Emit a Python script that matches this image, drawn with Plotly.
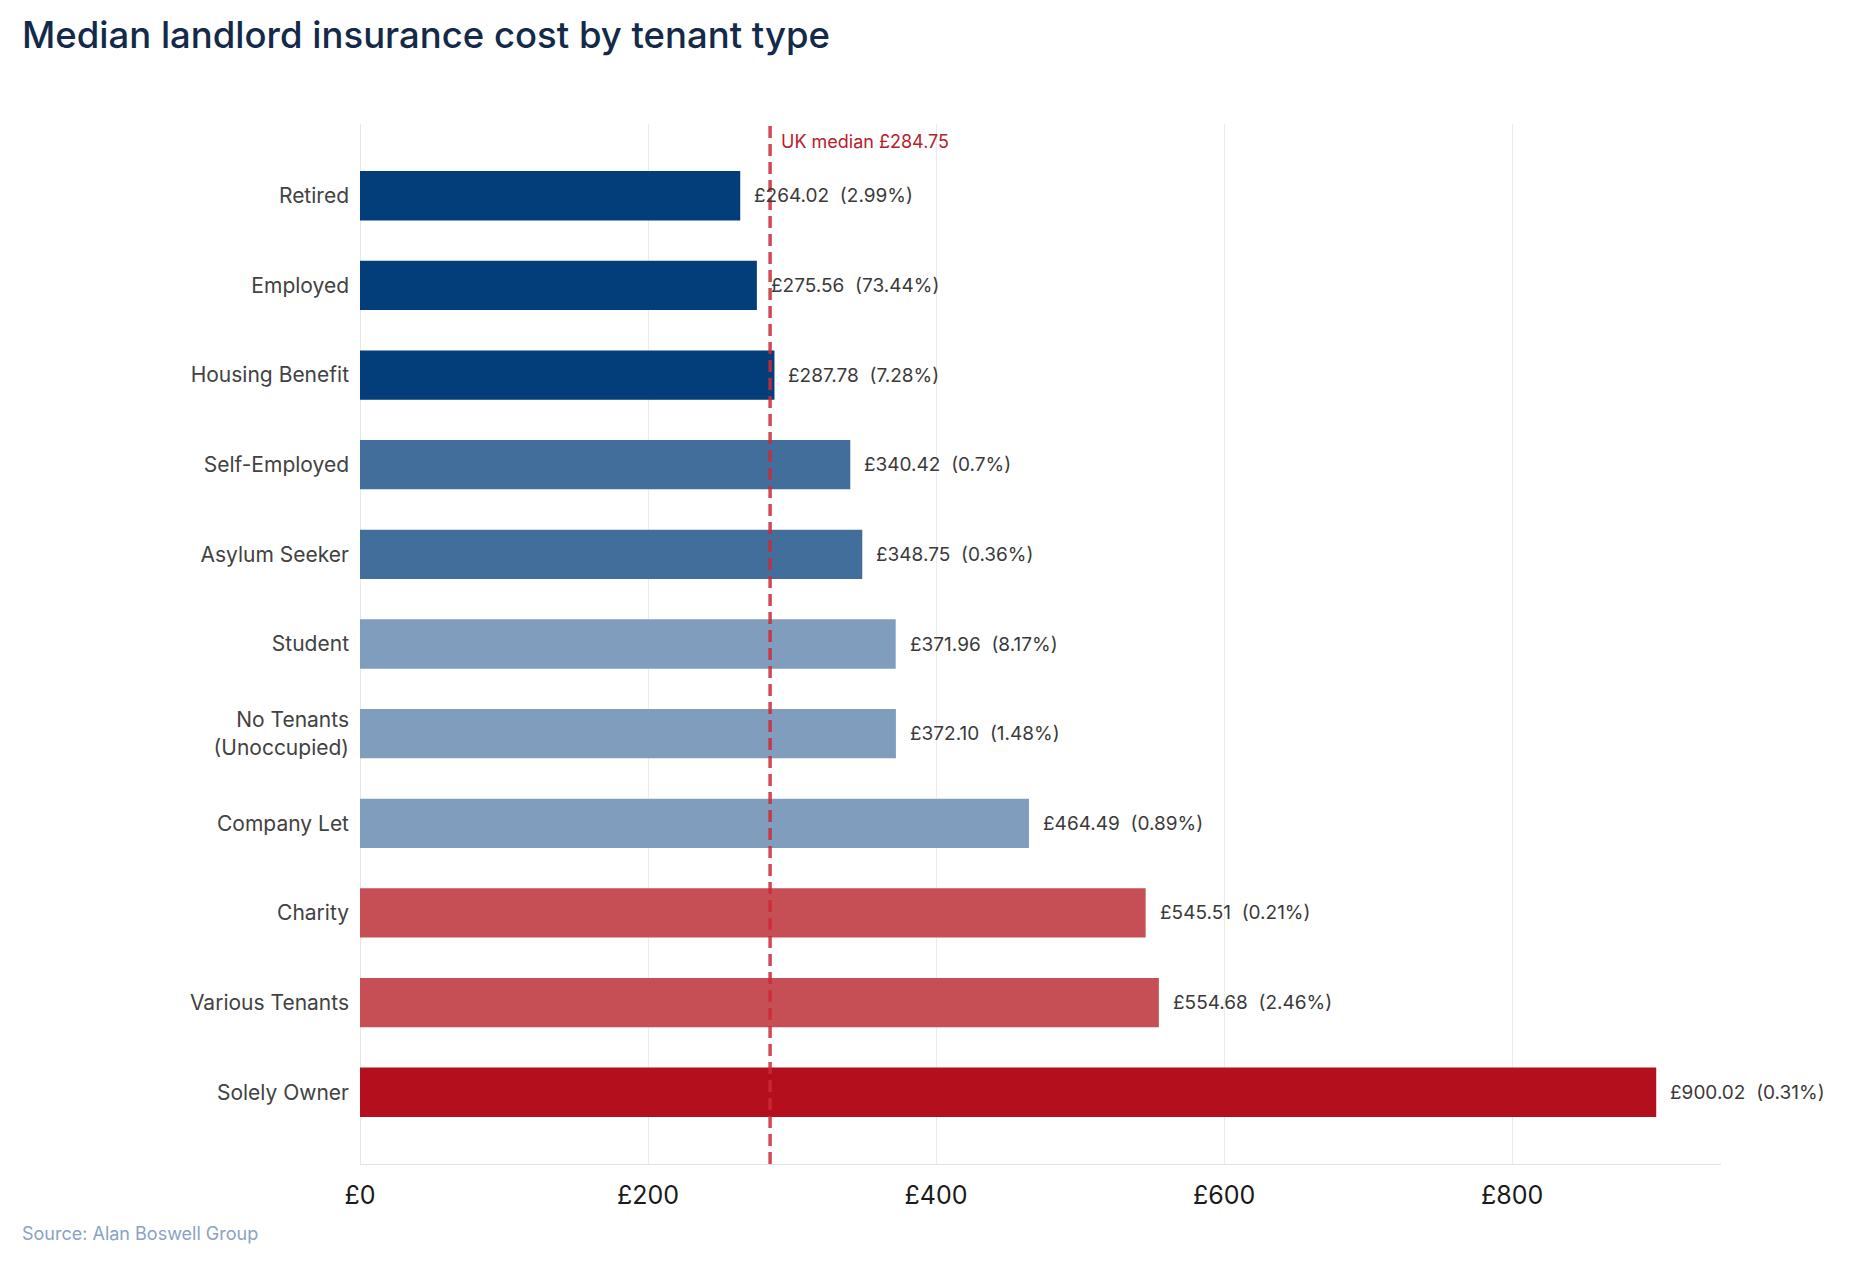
import plotly.graph_objects as go

categories = ["Retired", "Employed", "Housing Benefit", "Self-Employed", "Asylum Seeker",
              "Student", "No Tenants<br>(Unoccupied)", "Company Let", "Charity",
              "Various Tenants", "Solely Owner"]
costs = [264.02, 275.56, 287.78, 340.42, 348.75, 371.96, 372.10, 464.49, 545.51, 554.68, 900.02]
shares = [2.99, 73.44, 7.28, 0.7, 0.36, 8.17, 1.48, 0.89, 0.21, 2.46, 0.31]
uk_median = 284.75
x_ticks = [0, 200, 400, 600, 800]
x_tick_labels = ["£0", "£200", "£400", "£600", "£800"]

bar_colors = ["#033d7a", "#033d7a", "#033d7a", "#416e9b", "#416e9b",
              "#809dbd", "#809dbd", "#809dbd", "#c64e55", "#c64e55", "#b30f1c"]

FONT = "Inter, Noto Sans, sans-serif"

# page body margin offset compensation
L, R, T, B = 352, 137, 116, 106
PW = 1850 - L - R

fig = go.Figure()
fig.add_trace(go.Bar(
    x=costs, y=categories, orientation="h",
    marker=dict(color=bar_colors, line=dict(width=0)),
    width=0.55, hoverinfo="skip",
))

for c, v, s in zip(categories, costs, shares):
    fig.add_annotation(
        x=v, y=c, xref="x", yref="y", text=f"£{v:.2f}  ({s:g}%)",
        showarrow=False, xanchor="left", yanchor="middle", xshift=12,
        font=dict(family=FONT, size=19, color="#3a3a3a"),
    )

fig.add_shape(type="line", x0=uk_median, x1=uk_median, xref="x", y0=0, y1=1, yref="paper",
              line=dict(color="rgba(204,42,54,0.85)", width=3.5, dash="12px,6px"), layer="above")
fig.add_annotation(x=uk_median, xref="x", y=1, yref="paper", text=f"UK median £{uk_median:.2f}",
                   showarrow=False, xanchor="left", yanchor="middle", xshift=9, yshift=-17,
                   font=dict(family=FONT, size=18, color="#b8202b"))

fig.update_layout(
    width=1850, height=1262,
    margin=dict(l=L, r=R, t=T, b=B),
    paper_bgcolor="white", plot_bgcolor="white",
    showlegend=False,
    title=dict(text="Median landlord insurance cost by tenant type", x=14 / 1850, xanchor="left",
               y=1 - 27 / 1262, yanchor="middle",
               font=dict(family=FONT, size=36.5, color="#132a4a", weight=500)),
    xaxis=dict(range=[0, 945], tickvals=x_ticks, ticktext=x_tick_labels,
               showgrid=True, gridcolor="#ebebeb", gridwidth=1,
               zeroline=True, zerolinecolor="#e6e6e6", zerolinewidth=1,
               showline=True, linecolor="#e0e0e0", linewidth=1, ticks="",
               ticklabelstandoff=9,
               tickfont=dict(family=FONT, size=25, color="#1a1a1a")),
    yaxis=dict(categoryorder="array", categoryarray=categories, range=[10.8, -0.8],
               showgrid=False, zeroline=False, showline=False, ticks="",
               ticklabelstandoff=10,
               tickfont=dict(family=FONT, size=21, color="#424242")),
)

fig.add_annotation(text="Source: Alan Boswell Group", xref="paper", yref="paper",
                   x=(12 - L) / PW, xanchor="left", y=0, yanchor="middle", yshift=-69,
                   showarrow=False, font=dict(family=FONT, size=18, color="#8aa2c4"))

fig.write_html("out.html")
